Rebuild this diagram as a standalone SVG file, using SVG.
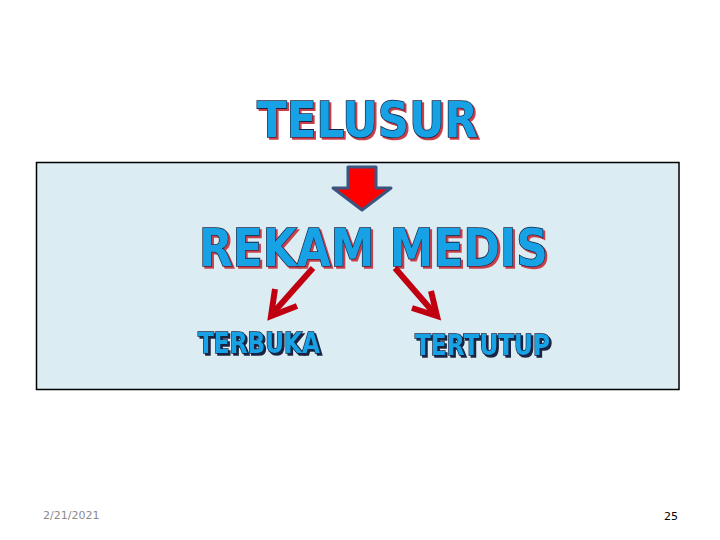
<svg xmlns="http://www.w3.org/2000/svg" width="720" height="540" viewBox="0 0 720 540">
<defs>
<filter id="shR" x="-5%" y="-20%" width="110%" height="140%">
<feOffset in="SourceAlpha" dx="2" dy="2" result="o"/>
<feFlood flood-color="#c8404a"/>
<feComposite in2="o" operator="in" result="s"/>
<feMerge><feMergeNode in="s"/><feMergeNode in="SourceGraphic"/></feMerge>
</filter>
<filter id="shD" x="-5%" y="-20%" width="110%" height="140%">
<feOffset in="SourceAlpha" dx="2" dy="2" result="o"/>
<feFlood flood-color="#1b2340"/>
<feComposite in2="o" operator="in" result="s"/>
<feMerge><feMergeNode in="s"/><feMergeNode in="SourceGraphic"/></feMerge>
</filter>
</defs>
<style>
.t{font-family:"DejaVu Sans",Verdana,sans-serif;font-weight:bold;fill:#12a2e4;stroke:#1b2340;stroke-width:1.6;paint-order:stroke}
.red{stroke:#c00010;stroke-width:6;fill:none;stroke-linecap:butt;stroke-linejoin:miter}
</style>
<rect width="720" height="540" fill="#ffffff"/>
<g id="box"><rect x="36.5" y="162.5" width="642.5" height="227" fill="#dbecf3" stroke="#000" stroke-width="1.5"/></g>
<g id="telusur">
<text class="t" filter="url(#shR)" x="257" y="137" font-size="50" textLength="221" lengthAdjust="spacingAndGlyphs">TELUSUR</text>
</g>
<g id="rekam">
<text class="t" filter="url(#shR)" x="199" y="266" font-size="52" textLength="349" lengthAdjust="spacingAndGlyphs">REKAM MEDIS</text>
</g>
<g id="terbuka">
<text class="t" filter="url(#shD)" x="198" y="353" font-size="29" textLength="122" lengthAdjust="spacingAndGlyphs">TERBUKA</text>
</g>
<g id="tertutup">
<text class="t" filter="url(#shD)" x="415" y="355" font-size="29" textLength="135" lengthAdjust="spacingAndGlyphs">TERTUTUP</text>
</g>
<g id="connectors">
<polygon points="348,167 376,167 376,188 391,188 362,210 333,188 348,188" fill="#ff0000" stroke="#3c5580" stroke-width="3" stroke-linejoin="round"/>
<path class="red" d="M313,268 L273,313"/>
<path class="red" d="M275,289 L271,316 L297,306"/>
<path class="red" d="M395,268 L434,313"/>
<path class="red" d="M412,308 L437,316 L431,291"/>
</g>
<g id="footer">
<text x="43" y="519" font-family="Tahoma,'DejaVu Sans',sans-serif" font-size="11" fill="#8a8a8a">2/21/2021</text>
<text x="664" y="520" font-family="'DejaVu Sans',sans-serif" font-size="11" fill="#000">25</text>
</g>
</svg>
